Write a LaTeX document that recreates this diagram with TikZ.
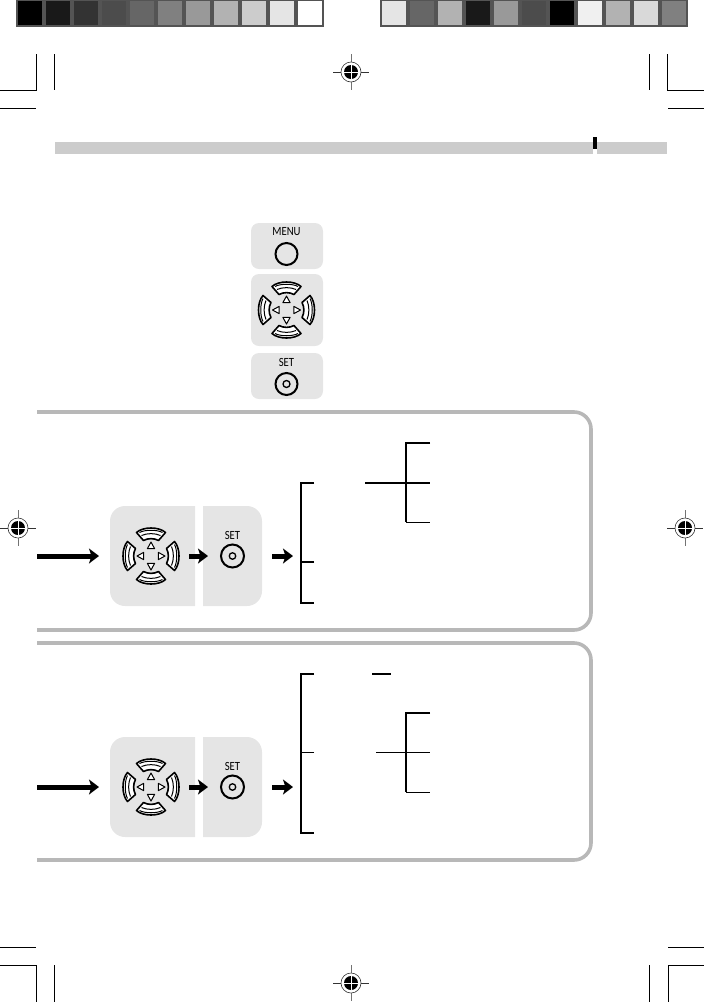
\documentclass[tikz,border=0pt]{standalone}
\usepackage{fontspec}
\setmainfont[FakeStretch=0.86]{Carlito}
\usetikzlibrary{arrows.meta,positioning,calc}

\tikzset{
  bar/.style={line width=2pt},
  thinbar/.style={line width=1.2pt},
  crop/.style={line width=1pt},
  plate/.style={fill=black!10,rounded corners=8pt},
  frame/.style={draw=black!28,line width=3.6pt,rounded corners=17pt},
  go/.style={line width=5pt,-{Stealth[length=10pt,width=15pt,inset=2.5pt]}},
  lbl/.style={inner sep=0pt,font=\fontsize{12.5}{12.5}\selectfont},
  regmark/.pic={
    \draw[black!55,line width=0.8pt] (0,-18) -- (0,18);
    \draw[black!80,line width=0.8pt] (-18,0) -- (18,0);
    \fill[white] (0,0) circle (10);
    \draw[black!80,line width=0.6pt] (0,0) circle (10);
    \fill (0,0) circle (7);
    \draw[white,line width=0.9pt] (-7,0) -- (7,0) (0,-7) -- (0,7);
  },
  dpadkey/.pic={
    \draw[fill=white,line width=1.6pt,line join=round] (-14.5,-23.5) .. controls (-8,-29.5) and (8,-29.5) .. (14.5,-23.5)
      -- (7.5,-15.5) .. controls (3,-18) and (-3,-18) .. (-7.5,-15.5) -- cycle;
    \draw[line width=1pt] (-11.5,-23.5) .. controls (-6,-26.5) and (6,-26.5) .. (11.5,-23.5);
    \draw[line width=1pt] (-9.5,-20.5) .. controls (-4,-23) and (4,-23) .. (9.5,-20.5);
    \draw[fill=white,line width=1pt,line join=round] (0,-14) -- (3.6,-7.4) -- (-3.6,-7.4) -- cycle;
  },
  dpad/.pic={
    \foreach \a in {0,90,180,270} \path (0,0) pic[rotate=\a] {dpadkey};
  },
}

\begin{document}
\begin{tikzpicture}[x=1pt,y=-1pt]
  \useasboundingbox (0,0) rectangle (704,1002);

  % grey scale strips
  \fill[black!67] (16,0) rectangle (324,27);
  \fill[black!67] (380,0) rectangle (688,27);
  \foreach \g [count=\i from 0] in {100,90,80,70,60,50,40,30,20,10,0}
    \fill[black!\g] ({18+28*\i},1) rectangle ({42+28*\i},25);
  \foreach \g [count=\i from 0] in {10,60,30,90,40,70,100,6,30,15,50}
    \fill[black!\g] ({382+28*\i},1) rectangle ({406+28*\i},25);

  % crop marks
  \draw[crop] (0,90) -- (36,90) -- (36,54);
  \draw[crop] (54,54) -- (54,90);
  \draw[crop] (0,108) -- (36,108);
  \draw[crop] (704,90) -- (667,90) -- (667,54);
  \draw[crop] (649.5,54) -- (649.5,90);
  \draw[crop] (704,108) -- (668,108);
  \draw[crop] (0,947) -- (36,947);
  \draw[crop] (0,965) -- (36,965) -- (36,1002);
  \draw[crop] (54,965) -- (54,1002);
  \draw[crop] (704,947) -- (668,947);
  \draw[crop] (704,965) -- (668,965) -- (668,1002);
  \draw[crop] (649.5,965) -- (649.5,1002);

  \path (351,72) pic {regmark};
  \path (351,983) pic {regmark};
  \path (18,528) pic {regmark};
  \path (685,528) pic {regmark};

  % header band
  \fill[black!20] (55,142) rectangle (593,154);
  \fill[black!20] (597,142) rectangle (667,154);
  \fill (593,137) rectangle (597,149);

  % key legend
  \fill[plate] (251,223) rectangle (323,269);
  \fill[plate] (251,274) rectangle (323,346);
  \fill[plate] (251,353) rectangle (323,399);
  \node[lbl] (menu) at (286.5,232) {MENU};
  \node[draw,circle,line width=2pt,minimum size=22pt,inner sep=0pt] (menukey) at (286.5,254) {};
  \path (286.5,310) pic {dpad};
  \node[lbl] (set) at (286.5,362) {SET};
  \node[draw,circle,line width=2pt,minimum size=22pt,inner sep=0pt] (setkey) at (286.5,384) {};
  \node[draw,circle,line width=1.3pt,minimum size=7pt,inner sep=0pt] at (setkey) {};

  % the two panels
  \foreach \n/\t/\b/\c in {a/412/630/556,b/643/860/787} {
    \draw[frame] (37,\t) -- (591,\t) -- (591,\b) -- (37,\b);
    \fill[black!10] (195,\c-50) -- (195,\c+50) [rounded corners=15pt] -- (110,\c+50) -- (110,\c-50) [sharp corners] -- cycle;
    \fill[black!10] (203,\c-50) [rounded corners=15pt] -- (262,\c-50) -- (262,\c+50) [sharp corners] -- (203,\c+50) -- cycle;
    \path (151,\c) pic {dpad};
    \node[lbl] (set\n) at (232.5,\c-21) {SET};
    \node[draw,circle,line width=2pt,minimum size=23pt,inner sep=0pt] (key\n) at (232.5,\c) {};
    \node[draw,circle,line width=1.3pt,minimum size=6.5pt,inner sep=0pt] at (key\n) {};
    \coordinate (in\n) at (37,\c);
    \coordinate (pad\n) at (99,\c);
    \coordinate (mid\n) at (189,\c);
    \coordinate (out\n) at (272,\c);
    \coordinate (tree\n) at (293,\c);
    \draw[go] (in\n) -- (pad\n);
    \draw[go,shorten >=12pt] (mid\n) -- (key\n.west);
    \draw[go] (out\n) -- (tree\n);
  }

  % tree in first panel
  \coordinate (t1) at (314,482.7);
  \coordinate (m1) at (314,561.7);
  \coordinate (b1) at (314,603);
  \coordinate (sp1) at (301,603);
  \draw[bar] (t1) -| (sp1) -- (b1);
  \draw[bar] (m1) -- (m1-|sp1);
  \coordinate (t2) at (430,443);
  \coordinate (m2) at (430,483);
  \coordinate (b2) at (430,522.3);
  \coordinate (sp2) at (406,522.3);
  \coordinate (f2) at (365,483);
  \draw[bar] (t2) -| (sp2);
  \draw[thinbar] (sp2) -- (b2);
  \draw[bar] (f2) -- (m2);

  % tree in second panel
  \coordinate (t3) at (314,673.7);
  \coordinate (m3) at (314,752.5);
  \coordinate (b3) at (314,833);
  \coordinate (sp3) at (301,833);
  \draw[bar] (t3) -| (sp3) -- (b3);
  \draw[thinbar] (m3) -- (m3-|sp3);
  \coordinate (h3a) at (372,673.7);
  \coordinate (h3b) at (391,673.7);
  \draw[bar] (h3a) -- (h3b);
  \coordinate (t4) at (430,712.7);
  \coordinate (m4) at (430,752.5);
  \coordinate (b4) at (430,792.3);
  \coordinate (sp4) at (406,792.3);
  \coordinate (f4) at (376,752.5);
  \draw[bar] (t4) -| (sp4);
  \draw[thinbar] (sp4) -- (b4);
  \draw[thinbar] (f4) -- (m4);
\end{tikzpicture}
\end{document}
